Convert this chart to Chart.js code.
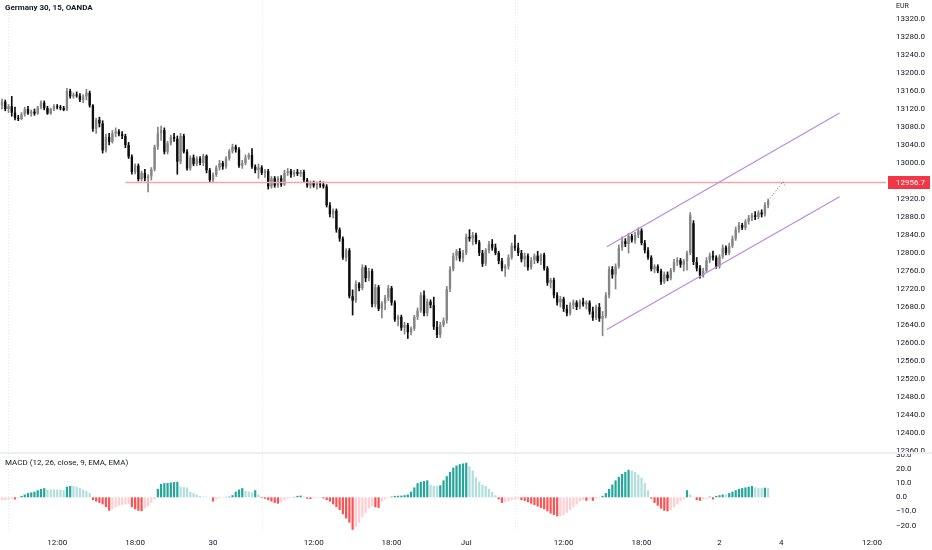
<!DOCTYPE html>
<html>
<head>
<meta charset="utf-8">
<title>Germany 30, 15, OANDA</title>
<script src="https://cdn.jsdelivr.net/npm/chart.js@4.4.0/dist/chart.umd.min.js"></script>
<style>
body { margin: 0; background: #fff; font-family: Roboto, sans-serif; }
#wrap { position: relative; width: 932px; height: 550px; overflow: hidden; background: #fff; }
#priceChart { position: absolute; left: 0; top: 0; }
#macdChart { position: absolute; left: 0; top: 454px; }
.sep { position: absolute; left: 0; top: 452px; width: 932px; height: 2px; background: #eceef2; }
.title { position: absolute; left: 5px; top: 3px; font: bold 8px Roboto, sans-serif; color: #131722; }
.cur { position: absolute; left: 896px; top: 2px; font: 7px Roboto, sans-serif; color: #131722; }
.macdTitle { position: absolute; left: 5px; top: 458px; font: 8px Roboto, sans-serif; color: #131722; }
</style>
</head>
<body>
<div id="wrap">
    <canvas id="priceChart" width="932" height="452"></canvas>
    <div class="sep"></div>
    <canvas id="macdChart" width="932" height="96"></canvas>
    <div class="title">Germany 30, 15, OANDA</div>
    <div class="cur">EUR</div>
    <div class="macdTitle">MACD (12, 26, close, 9, EMA, EMA)</div>
</div>
<script>
// 15 minute candles
const opens = [
    13128,13136,13120,13126,13112,13100,13098,13108,13120,13110,
    13114,13110,13124,13134,13122,13110,13120,13126,13124,13122,
    13118,13160,13148,13152,13150,13140,13148,13156,13128,13076,
    13096,13088,13028,13058,13047,13066,13070,13064,13060,13040,
    13014,12980,12994,12964,12978,12966,12970,12986,13036,13066,
    13073,13025,13044,13058,13054,13003,13060,13025,12988,13012,
    12998,13010,13000,13016,12984,12962,12974,12990,13000,12992,
    13010,13026,13036,13030,12994,13000,13012,13018,12992,12984,
    12990,12978,12982,12948,12966,12950,12966,12952,12978,12982,
    12974,12980,12976,12980,12962,12950,12956,12950,12954,12952,
    12948,12906,12886,12894,12852,12832,12790,12806,12704,12694,
    12732,12722,12768,12744,12760,12686,12724,12676,12688,12700,
    12722,12690,12652,12658,12634,12640,12624,12632,12658,12672,
    12706,12666,12692,12684,12636,12618,12640,12650,12720,12764,
    12794,12804,12788,12800,12836,12832,12840,12824,12800,12776,
    12806,12820,12812,12800,12782,12766,12770,12790,12816,12812,
    12800,12786,12794,12768,12784,12794,12782,12796,12766,12734,
    12740,12706,12690,12698,12676,12666,12684,12690,12680,12692,
    12686,12690,12670,12656,12680,12654,12660,12706,12764,12752,
    12770,12812,12826,12820,12838,12828,12840,12850,12822,12806,
    12790,12764,12770,12760,12736,12752,12744,12762,12780,12784,
    12774,12782,12800,12866,12780,12766,12750,12760,12784,12794,
    12790,12770,12792,12812,12800,12816,12832,12852,12862,12856,
    12870,12878,12884,12880,12890,12886,12906
];
const highs = [
    13142,13140,13130,13148,13124,13106,13112,13124,13126,13118,
    13120,13126,13138,13138,13126,13122,13130,13130,13128,13126,
    13166,13164,13156,13158,13154,13152,13164,13160,13130,13100,
    13102,13094,13064,13066,13072,13078,13074,13070,13064,13046,
    13018,12998,12998,12982,12986,12974,12990,13040,13080,13082,
    13078,13048,13062,13066,13060,13066,13064,13030,13016,13018,
    13014,13014,13020,13018,12988,12978,12994,13006,13004,13014,
    13030,13042,13040,13034,13006,13018,13022,13032,12996,12998,
    12994,12986,12986,12970,12970,12970,12972,12984,12988,12986,
    12984,12986,12984,12984,12966,12960,12960,12958,12960,12958,
    12952,12912,12898,12898,12856,12836,12810,12810,12718,12738,
    12734,12774,12772,12766,12764,12730,12728,12692,12706,12728,
    12726,12694,12662,12662,12646,12644,12636,12662,12678,12712,
    12716,12698,12696,12702,12648,12646,12656,12726,12770,12800,
    12808,12810,12806,12842,12852,12846,12844,12828,12806,12810,
    12826,12830,12820,12804,12788,12774,12796,12822,12840,12822,
    12806,12800,12798,12790,12798,12804,12798,12800,12770,12744,
    12744,12712,12704,12702,12684,12690,12696,12694,12696,12700,
    12694,12694,12680,12684,12688,12670,12712,12770,12770,12776,
    12818,12836,12832,12844,12842,12846,12856,12854,12828,12812,
    12794,12774,12774,12764,12758,12758,12766,12786,12790,12788,
    12786,12804,12890,12872,12790,12772,12766,12790,12800,12804,
    12794,12796,12818,12816,12822,12838,12858,12868,12866,12874,
    12884,12888,12892,12894,12896,12912,12920
];
const lows = [
    13120,13116,13112,13104,13096,13094,13096,13104,13108,13104,
    13106,13108,13120,13118,13108,13108,13116,13120,13118,13116,
    13116,13144,13144,13146,13136,13134,13140,13124,13070,13066,
    13080,13022,13024,13040,13044,13058,13060,13054,13034,13010,
    12975,12976,12960,12960,12960,12936,12962,12982,13030,13050,
    13020,13020,13040,13048,12975,12998,13022,12984,12984,12994,
    12994,12996,12994,12978,12958,12958,12970,12984,12986,12988,
    13006,13022,13024,12990,12988,12996,13008,12988,12978,12966,
    12974,12968,12942,12944,12946,12946,12948,12950,12972,12968,
    12970,12972,12970,12958,12946,12944,12946,12942,12946,12944,
    12902,12880,12878,12846,12826,12786,12782,12700,12662,12690,
    12716,12718,12736,12738,12680,12680,12672,12656,12674,12694,
    12684,12648,12638,12628,12620,12610,12618,12628,12652,12668,
    12660,12660,12678,12630,12612,12612,12636,12644,12714,12760,
    12784,12782,12780,12796,12826,12818,12820,12794,12770,12772,
    12800,12806,12796,12776,12760,12748,12764,12786,12806,12794,
    12780,12770,12762,12764,12776,12778,12774,12762,12728,12722,
    12700,12684,12680,12670,12660,12662,12676,12674,12676,12682,
    12676,12664,12650,12652,12648,12616,12656,12700,12744,12720,
    12766,12806,12814,12800,12824,12822,12834,12818,12800,12786,
    12760,12756,12756,12730,12732,12738,12740,12758,12772,12768,
    12760,12762,12796,12774,12760,12744,12746,12756,12778,12784,
    12766,12766,12788,12796,12796,12812,12828,12846,12852,12852,
    12864,12872,12874,12876,12880,12882,12900
];
const closes = [
    13136,13120,13126,13112,13100,13098,13108,13120,13110,13114,
    13110,13124,13134,13122,13110,13120,13126,13124,13122,13118,
    13160,13148,13152,13150,13140,13148,13156,13128,13076,13096,
    13088,13028,13058,13047,13066,13070,13064,13060,13040,13014,
    12980,12994,12964,12978,12966,12970,12986,13036,13066,13073,
    13025,13044,13058,13054,13003,13060,13025,12988,13012,12998,
    13010,13000,13016,12984,12962,12974,12990,13000,12992,13010,
    13026,13036,13030,12994,13000,13012,13018,12992,12984,12990,
    12978,12982,12948,12966,12950,12966,12952,12978,12982,12974,
    12980,12976,12980,12962,12950,12956,12950,12954,12952,12948,
    12906,12886,12894,12852,12832,12790,12806,12704,12694,12732,
    12722,12768,12744,12760,12686,12724,12676,12688,12700,12722,
    12690,12652,12658,12634,12640,12624,12632,12658,12672,12706,
    12666,12692,12684,12636,12618,12640,12650,12720,12764,12794,
    12804,12788,12800,12836,12832,12840,12824,12800,12776,12806,
    12820,12812,12800,12782,12766,12770,12790,12816,12812,12800,
    12786,12794,12768,12784,12794,12782,12796,12766,12734,12740,
    12706,12690,12698,12676,12666,12684,12690,12680,12692,12686,
    12690,12670,12656,12680,12654,12660,12706,12764,12752,12770,
    12812,12826,12820,12838,12828,12840,12850,12822,12806,12790,
    12764,12770,12760,12736,12752,12744,12762,12780,12784,12774,
    12782,12800,12884,12780,12766,12750,12760,12784,12794,12790,
    12770,12792,12812,12800,12816,12832,12852,12862,12856,12870,
    12878,12884,12880,12890,12886,12906,12916
];

// MACD histogram (12, 26, 9)
const macdHist = [
    -2,-2,-1.5,-1,-1.5,-0.5,1,2,3,3.5,
    4,5,6,6.5,5.5,5.5,5.5,5.5,5.5,5,
    7.5,8,8,7.5,6.5,5.5,4.5,3,-2,-3,
    -4,-5,-7,-9.5,-8.5,-7,-6,-5.5,-5,-4.8,
    -7,-8.5,-9.5,-9.8,-8,-6.5,-4,-1.5,6,9.5,
    10,10.2,10.5,10.8,11,7.5,7.2,7,4,3,
    2,1,0.5,0.5,0.3,-3,-1.5,-0.5,-0.3,0.3,
    0.5,1.5,4,5.5,6.5,4.5,4,3.5,5,2,
    -0.5,-1,-2,-3,-4,-4.5,-3.5,-2,-1,-0.5,
    0.3,1,1.2,0.5,-1,-1.2,-0.8,-0.5,-0.5,-0.8,
    -2,-3,-5,-7,-9,-12,-15,-18,-23,-21,
    -18,-14,-11,-8,-6,-7,-7.5,-3,-1.5,-0.5,
    0.5,1,1.1,1.2,1.5,2,4,7,10,11,
    11.5,12,9,8,8,8.5,12,15,18,21,
    22.5,23.5,24,24.5,22,19,14,11,9,8,
    6,4,1.5,-1.5,-4,-3.5,-3,-2,-1.5,-1,
    -2,-2.5,-3.5,-4.5,-5.5,-6.5,-7.5,-8.5,-10,-11.5,
    -12.5,-13.5,-13.3,-12.5,-11,-9,-7,-5,-3,-2,
    -2.5,-1.5,-2.5,-1,-0.5,1,3,6,9,12,
    14.5,16.5,18,19.5,19,18,16,14,10,5,
    -1,-4,-6,-8,-9.5,-10,-9,-7,-5,-3,
    -1.5,5,2,0.5,-2,-2.5,-1.5,-1,0.5,-1.5,
    1,1.5,2,2,3,4,5,6,6.5,7,
    7.5,8,7,6.5,6.5,6.8,6.5
];

const priceTicks = [12360,12400,12440,12480,12520,12560,12600,12640,12680,12720,12760,12800,
    12840,12880,12920,13000,13040,13080,13120,13160,13200,13240,13280,13320];
const macdTicks = [-20,-10,0,10,20,30];
const timeTickPos = [17,41,65,96,120,143,173,197,221,240,268];
const timeTickText = ['12:00','18:00','30','12:00','18:00','Jul','12:00','18:00','2','4','12:00'];
const daySeparators = [1.85,80.1,158];

// drawings on the chart
const levelPrice = 12956.7;
const levelFrom = 38;
const channelUpper = [[186.3,12814],[258,13111]];
const channelLower = [[186.3,12630],[258,12925]];
const projection = [[236,12916],[240.5,12958],[241.5,12946]];

const X_MIN = -0.62;
const X_MAX = 272.3;
const UP_COLOR = '#858585';
const DOWN_COLOR = '#0d0d0d';

Chart.defaults.font.family = 'Roboto, sans-serif';
Chart.defaults.font.size = 8;
Chart.defaults.color = '#131722';

document.addEventListener('DOMContentLoaded', function() {
    renderPriceChart();
    renderMacdChart();
});

// right price axis: fixed width, no extra label padding above/below the pane
function fitRightAxis(scale) {
    scale.width = 46;
    scale.paddingTop = 0;
    scale.paddingBottom = 0;
}

const daySeparatorPlugin = {
    id: 'daySeparators',
    beforeDatasetsDraw(chart) {
        const ctx = chart.ctx;
        const x = chart.scales.x;
        ctx.save();
        ctx.strokeStyle = '#e6e8ee';
        ctx.lineWidth = 1;
        ctx.setLineDash([1, 2]);
        daySeparators.forEach(d => {
            const px = Math.round(x.getPixelForValue(d)) + 0.5;
            ctx.beginPath();
            ctx.moveTo(px, 0);
            ctx.lineTo(px, chart.chartArea.bottom);
            ctx.stroke();
        });
        ctx.restore();
    }
};

const priceLabelPlugin = {
    id: 'priceLabel',
    afterDraw(chart) {
        const ctx = chart.ctx;
        const y = Math.round(chart.scales.y.getPixelForValue(levelPrice));
        const left = chart.chartArea.right + 2;
        ctx.save();
        ctx.fillStyle = '#f23645';
        ctx.fillRect(left, y - 6, 930 - left, 13);
        ctx.fillStyle = '#ffffff';
        ctx.font = '8px Roboto, sans-serif';
        ctx.textBaseline = 'middle';
        ctx.fillText(levelPrice.toFixed(1), left + 8, y + 0.5);
        ctx.restore();
    }
};

function toPoints(pairs) {
    return pairs.map(p => ({ x: p[0], y: p[1] }));
}

function renderPriceChart() {
    const ctx = document.getElementById('priceChart').getContext('2d');
    const colors = closes.map((c, i) => c >= opens[i] ? UP_COLOR : DOWN_COLOR);
    new Chart(ctx, {
        type: 'bar',
        data: {
            datasets: [
                {
                    type: 'line',
                    data: toPoints(channelUpper),
                    borderColor: '#b98ade',
                    borderWidth: 1.2,
                    pointRadius: 0
                },
                {
                    type: 'line',
                    data: toPoints(channelLower),
                    borderColor: '#b98ade',
                    borderWidth: 1.2,
                    pointRadius: 0
                },
                {
                    type: 'line',
                    data: toPoints(projection),
                    borderColor: '#666',
                    borderWidth: 1,
                    borderDash: [1, 2],
                    pointRadius: 0
                },
                {
                    type: 'line',
                    data: [{ x: levelFrom, y: levelPrice }, { x: X_MAX, y: levelPrice }],
                    borderColor: '#f7a3aa',
                    borderWidth: 1.6,
                    pointRadius: 0
                },
                {
                    data: opens.map((o, i) => ({ x: i, y: [o, closes[i]] })),
                    backgroundColor: colors,
                    borderWidth: 0,
                    grouped: false,
                    barPercentage: 0.85,
                    categoryPercentage: 0.85
                },
                {
                    data: lows.map((l, i) => ({ x: i, y: [l, highs[i]] })),
                    backgroundColor: colors,
                    borderWidth: 0,
                    grouped: false,
                    barThickness: 1
                }
            ]
        },
        options: {
            responsive: false,
            animation: false,
            layout: { padding: 0 },
            plugins: { legend: { display: false }, tooltip: { enabled: false } },
            scales: {
                x: {
                    type: 'linear',
                    min: X_MIN,
                    max: X_MAX,
                    offset: false,
                    display: false
                },
                y: {
                    position: 'right',
                    min: 12357.8,
                    max: 13362.2,
                    grid: { display: false, drawTicks: false },
                    border: { display: false },
                    afterFit: fitRightAxis,
                    afterBuildTicks(scale) { scale.ticks = priceTicks.map(v => ({ value: v })); },
                    ticks: {
                        padding: 10,
                        autoSkip: false,
                        color: '#131722',
                        callback: v => v.toFixed(1)
                    }
                }
            }
        },
        plugins: [daySeparatorPlugin, priceLabelPlugin]
    });
}

function renderMacdChart() {
    const ctx = document.getElementById('macdChart').getContext('2d');
    const colors = macdHist.map((v, i) => {
        const prev = i > 0 ? macdHist[i - 1] : v;
        if (v >= 0) return v > prev ? '#26a69a' : '#b2dfdb';
        return v < prev ? '#ff5252' : '#ffcdd2';
    });
    new Chart(ctx, {
        type: 'bar',
        data: {
            datasets: [{
                data: macdHist.map((v, i) => ({ x: i, y: v })),
                backgroundColor: colors,
                borderWidth: 0,
                barPercentage: 0.68,
                categoryPercentage: 1
            }]
        },
        options: {
            responsive: false,
            animation: false,
            layout: { padding: 0 },
            plugins: { legend: { display: false }, tooltip: { enabled: false } },
            scales: {
                x: {
                    type: 'linear',
                    min: X_MIN,
                    max: X_MAX,
                    offset: false,
                    grid: { display: false, drawTicks: false },
                    border: { display: false },
                    afterFit(scale) {
                        scale.height = 18;
                        scale.paddingLeft = 0;
                        scale.paddingRight = 0;
                    },
                    afterBuildTicks(scale) { scale.ticks = timeTickPos.map(v => ({ value: v })); },
                    ticks: {
                        padding: 6,
                        autoSkip: false,
                        maxRotation: 0,
                        color: '#131722',
                        callback: (v, i) => timeTickText[i]
                    }
                },
                y: {
                    position: 'right',
                    min: -24.6,
                    max: 30.7,
                    grid: { display: false, drawTicks: false },
                    border: { display: false },
                    afterFit: fitRightAxis,
                    afterBuildTicks(scale) { scale.ticks = macdTicks.map(v => ({ value: v })); },
                    ticks: {
                        padding: 10,
                        autoSkip: false,
                        color: '#131722',
                        callback: v => (v < 0 ? '\u2212' + Math.abs(v).toFixed(1) : v.toFixed(1))
                    }
                }
            }
        },
        plugins: [daySeparatorPlugin]
    });
}
</script>
</body>
</html>
